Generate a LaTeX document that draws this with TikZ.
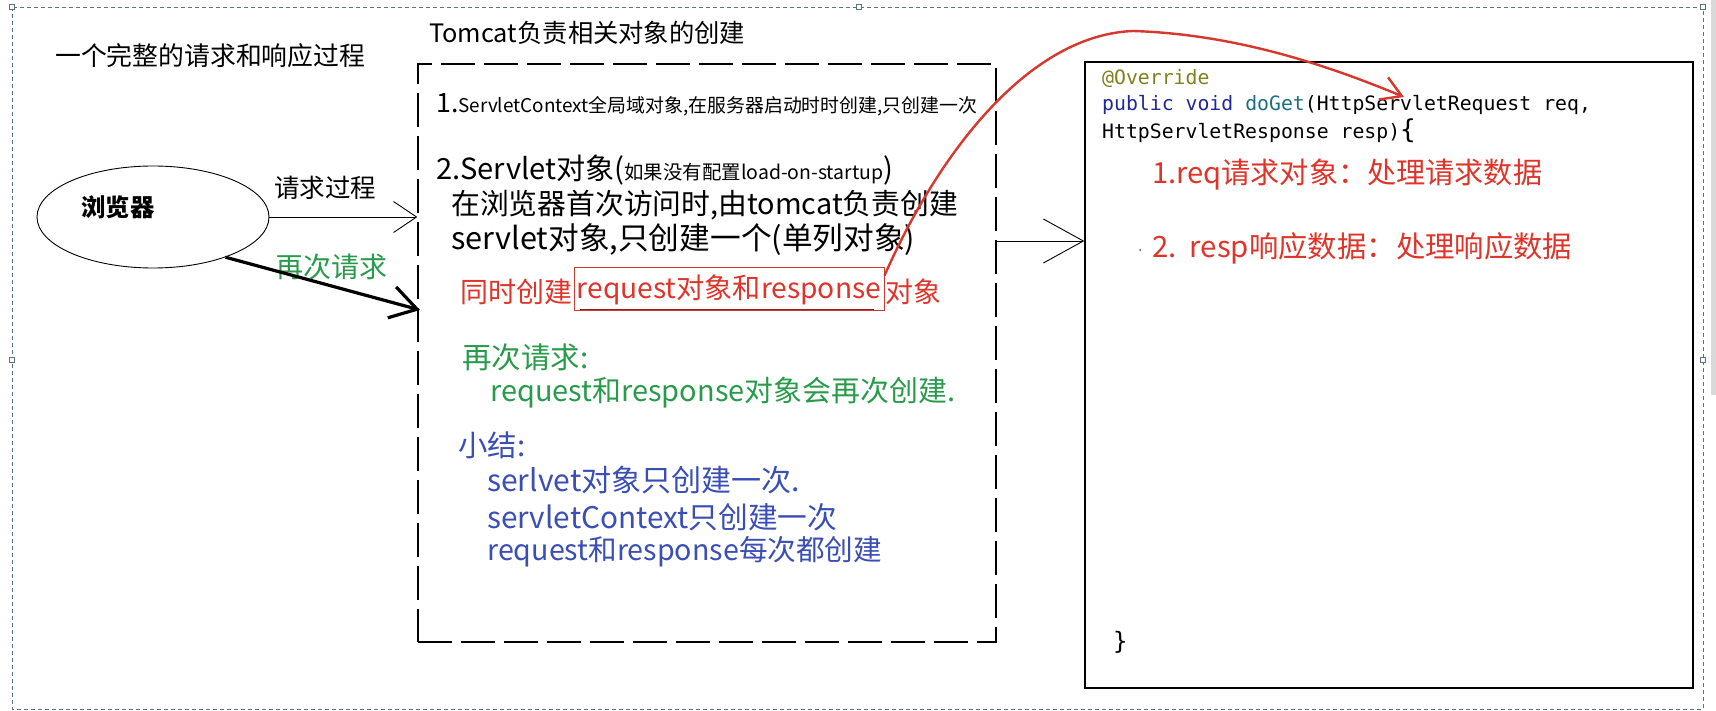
\documentclass[tikz,border=0pt]{standalone}
\usepackage{fontspec}
\usepackage{graphicx}
\setmainfont{Noto Sans CJK SC}
\newfontfamily\codefont{DejaVu Sans Mono}
\usetikzlibrary{arrows.meta,calc,shapes.geometric}
\definecolor{redtxt}{RGB}{222,52,42}
\definecolor{redbox}{RGB}{200,60,50}
\definecolor{darkredline}{RGB}{150,30,25}
\definecolor{redarrow}{RGB}{215,55,45}
\definecolor{greentxt}{RGB}{40,155,75}
\definecolor{bluetxt}{RGB}{58,78,180}
\definecolor{olivetxt}{RGB}{128,128,30}
\definecolor{kwblue}{RGB}{30,40,150}
\definecolor{mteal}{RGB}{30,110,130}
\definecolor{bordercol}{RGB}{90,115,125}
\newcommand{\fsz}[1]{\fontsize{#1}{#1}\selectfont}
\newcommand{\fitw}[2]{\resizebox{#1pt}{!}{#2}}
\begin{document}
\begin{tikzpicture}[x=1pt,y=-1pt,
  txt/.style={inner sep=0pt, anchor=west},
  handle/.style={draw=bordercol, fill=white, minimum size=5pt, inner sep=0pt, line width=0.6pt},
  openarrow/.style={line width=0.9pt}]
\useasboundingbox (0,0) rectangle (1716,711);
\fill[white] (0,0) rectangle (1716,711);
% outer frame
\fill[gray!30] (1711,0) rectangle (1716,395);
\draw[bordercol, line width=0.8pt, dash pattern=on 4pt off 3pt] (12,7) rectangle (1703,709);
\foreach \x/\y [count=\i] in {12/7, 859/7, 1703/7, 12/360, 1703/360}
  \node[handle] (h\i) at (\x,\y) {};

% titles
\node[txt] (t1) at (55,56) {\fitw{310}{\fsz{26}一个完整的请求和响应过程}};
\node[txt] (t2) at (429,33) {\fitw{316}{\fsz{27}Tomcat负责相关对象的创建}};

% browser
\node[draw, ellipse, minimum width=232pt, minimum height=102pt, line width=0.9pt, inner sep=0pt] (ell) at (153,217) {};
\node[inner sep=0pt] (br) at (118,207) {\fitw{73}{\fsz{25}\bfseries 浏览器}};
\node[txt] (q1) at (274,188) {\fitw{102}{\fsz{25}请求过程}};
\node[txt, text=greentxt] (q2) at (275,267) {\fitw{112}{\fsz{27}再次请求}};

% tomcat dashed box
\node[draw, dash pattern=on 34pt off 9pt, line width=1.3pt, minimum width=578pt, minimum height=578pt, inner sep=0pt] (tbox) at (707,353) {};

% code box
\node[draw, line width=1.4pt, minimum width=608pt, minimum height=626pt, inner sep=0pt] (cbox) at (1389,375) {};

% arrows
\draw[openarrow, -{Straight Barb[length=23pt,width=31pt]}] (ell.east) -- (ell.east -| tbox.west);
\coordinate (c2) at (420,310);
\draw[line width=3.2pt, -{Straight Barb[length=26pt,width=32pt]}] (ell.-29) -- (c2);
\coordinate (m1) at (1000,241);
\draw[openarrow, -{Straight Barb[length=40pt,width=44pt]}] (tbox.east |- m1) -- (cbox.west |- m1);

% tomcat box texts
\node[txt] (l1) at (436,105) {\fitw{541}{\fsz{24}1.\fsz{17}ServletContext全局域对象,在服务器启动时时创建,只创建一次}};
\node[txt] (l2) at (436,170) {\fitw{457}{{\fsz{27}2.Servlet对象(}{\fsz{18}如果没有配置load-on-startup}{\fsz{27})}}};
\node[txt] (l3) at (451,205) {\fitw{507}{\fsz{29}在浏览器首次访问时,由tomcat负责创建}};
\node[txt] (l4) at (451,240) {\fitw{464}{\fsz{29}servlet对象,只创建一个(单列对象)}};

\node[draw=redbox, line width=1pt, minimum width=310pt, minimum height=43pt, inner sep=0pt, text=redtxt] (rbox) at (729,289.5) {\fitw{304}{\fsz{28}request对象和response}};
\node[inner sep=0pt, anchor=east, text=redtxt] (r1) at ($(rbox.west)+(-1,2)$) {\fitw{112}{\fsz{28}同时创建}};
\node[inner sep=0pt, anchor=west, text=redtxt] (r3) at ($(rbox.east)+(1,2)$) {\fitw{56}{\fsz{28}对象}};
\draw[darkredline, line width=1.6pt] ($(rbox.south west)+(6,-2)$) -- ($(rbox.south east)+(-11,-2)$);

\node[txt, text=greentxt] (g1) at (462,357) {\fitw{126}{\fsz{28}再次请求:}};
\node[txt, text=greentxt] (g2) at (490,393) {\fitw{465}{\fsz{28}request和response对象会再次创建.}};
\node[txt, text=bluetxt] (b1) at (458,445) {\fitw{67}{\fsz{28}小结:}};
\node[txt, text=bluetxt] (b2) at (487,480) {\fitw{313}{\fsz{28}serlvet对象只创建一次.}};
\node[txt, text=bluetxt] (b3) at (487,517) {\fitw{350}{\fsz{28}servletContext只创建一次}};
\node[txt, text=bluetxt] (b4) at (487,552) {\fitw{395}{\fsz{28}request和response每次都创建}};

% code
\node[txt, text=olivetxt] (k1) at (1102,79) {\codefont\fsz{19.8}@Override};
\node[txt] (k2) at (1102,105) {\codefont\fsz{19.8}{\color{kwblue}public void} {\color{mteal}doGet}(HttpServletRequest req,};
\node[txt] (k3) at (1102,131) {\codefont\fsz{19.8}HttpServletResponse resp){\fsz{26}\{}};
\node[txt, text=redtxt] (d1) at (1152,175) {\fitw{390}{\fsz{28}1.req请求对象：处理请求数据}};
\node[txt, text=redtxt] (d2) at (1152,248) {\fitw{420}{\fsz{28}2.\ \ resp响应数据：处理响应数据}};
\fill[black!70] (1140,250) circle (1pt);
\node[txt] (k4) at (1113,642) {\codefont\fsz{24}\}};

% red curved arrow
\coordinate (rtip) at (1404,97);
\draw[redarrow, line width=2.4pt, -{Straight Barb[length=20pt,width=24pt]}]
  ($(rbox.north east)+(0,8)$) .. controls (940,150) and (1030,35) .. (1133,31)
  .. controls (1230,34) and (1320,62) .. (rtip);
\end{tikzpicture}
\end{document}
